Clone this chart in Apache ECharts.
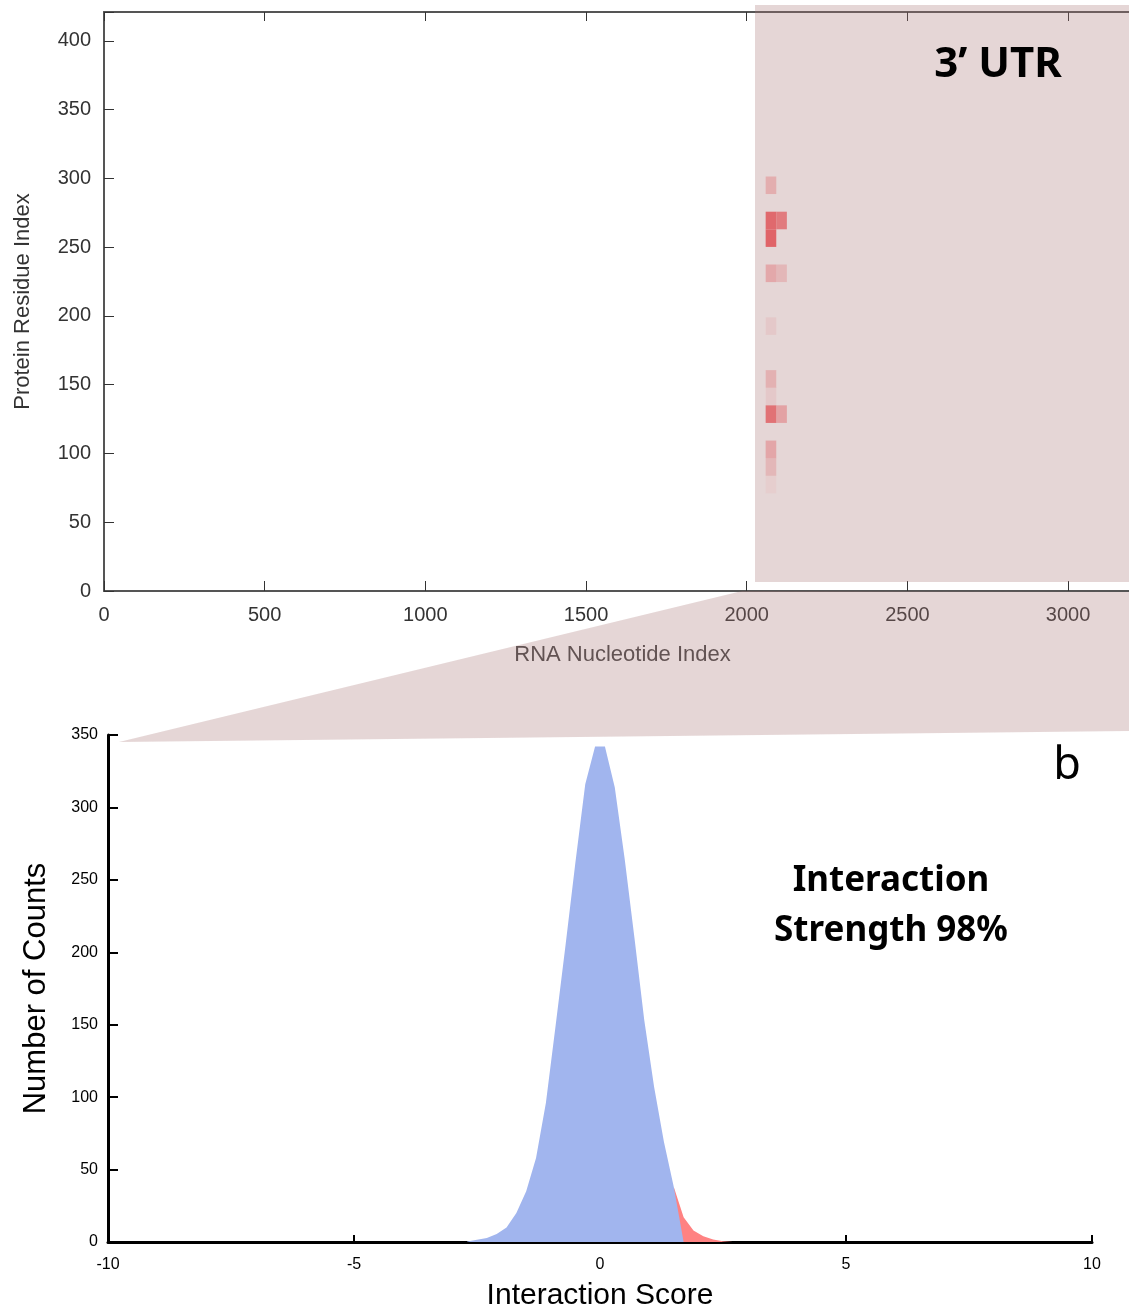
<!DOCTYPE html>
<html>
<head>
<meta charset="utf-8">
<title>RNA-protein interaction</title>
<script src="https://cdn.jsdelivr.net/npm/echarts@6/dist/echarts.min.js"></script>
<style>
  html, body { margin: 0; padding: 0; background: #fff; }
  #chart { width: 1129px; height: 1311px; }
</style>
</head>
<body>
<div id="chart"></div>
<script>
// top panel: interaction map, one cell per (RNA bin, protein bin)
const cellX = [2059, 2059, 2092, 2059, 2059, 2092, 2059, 2059, 2059, 2059, 2092, 2059, 2059, 2059]
const cellY = [288.6, 263, 263, 250.2, 224.6, 224.6, 186.2, 147.8, 135, 122.2, 122.2, 96.6, 83.8, 71]
const cellStrength = [0.35, 0.95, 0.8, 1, 0.4, 0.28, 0.12, 0.32, 0.12, 0.88, 0.45, 0.42, 0.28, 0.08]
const cellW = 33
const cellH = 12.8

// bottom panel: distribution of interaction scores
const scoreX = [-2.7, -2.5, -2.3, -2.1, -1.9, -1.7, -1.5, -1.3, -1.1, -0.9, -0.7, -0.5, -0.3, -0.1,
  0.1, 0.3, 0.5, 0.7, 0.9, 1.1, 1.3, 1.5, 1.7, 1.9, 2.1, 2.3, 2.5, 2.7]
const blueCounts = [0.3, 1.5, 2.8, 5.5, 10, 20, 35, 58, 96, 150, 205, 262, 316, 342,
  342, 314, 265, 210, 153, 107, 69, 38, 0, null, null, null, null, null]
const redCounts = [null, null, null, null, null, null, null, null, null, null, null, null, null, null,
  null, null, null, null, null, null, null, 38, 17, 8, 4, 1.8, 0.6, 0]

const pairs = (vals) => scoreX.map((x, i) => [x, vals[i]]).filter(p => p[1] !== null)

const chart = echarts.init(document.getElementById('chart'))

const overlay = 'rgba(168, 118, 118, 0.3)'
const topMax = 3227

const option = {
  animation: false,
  textStyle: { fontFamily: 'Liberation Sans, Arial, sans-serif' },
  grid: [
    { left: 104, top: 12, right: -12, bottom: 720, outerBoundsMode: 'none' },
    { left: 108, top: 735, right: 37, bottom: 69, outerBoundsMode: 'none' }
  ],
  xAxis: [
    {
      gridIndex: 0,
      type: 'value',
      min: 0,
      max: topMax,
      interval: 500,
      position: 'bottom',
      axisLine: { lineStyle: { color: '#555', width: 2 } },
      axisTick: { inside: true, length: 10, lineStyle: { color: '#333', width: 1 } },
      axisLabel: {
        fontSize: 20,
        color: '#333',
        margin: 14,
        formatter: (v) => (v % 500 === 0 ? v : '')
      },
      splitLine: { show: false },
      name: 'RNA Nucleotide Index',
      nameLocation: 'middle',
      nameGap: 53,
      nameTextStyle: { fontSize: 22, color: '#444' }
    },
    {
      gridIndex: 0,
      type: 'value',
      min: 0,
      max: topMax,
      interval: 500,
      position: 'top',
      axisLine: { lineStyle: { color: '#555', width: 2 } },
      axisTick: { inside: true, length: 9, lineStyle: { color: '#333', width: 1 } },
      axisLabel: { show: false },
      splitLine: { show: false }
    },
    {
      gridIndex: 1,
      type: 'value',
      min: -10,
      max: 10,
      interval: 5,
      axisLine: { lineStyle: { color: '#000', width: 3 } },
      axisTick: { inside: true, length: 7, lineStyle: { color: '#000', width: 2 } },
      axisLabel: { fontSize: 16, color: '#000', margin: 15 },
      splitLine: { show: false },
      name: 'Interaction Score',
      nameLocation: 'middle',
      nameGap: 39,
      nameTextStyle: { fontSize: 30, color: '#000' }
    }
  ],
  yAxis: [
    {
      gridIndex: 0,
      type: 'value',
      min: 0,
      max: 421,
      interval: 50,
      axisLine: { show: true, onZero: false, lineStyle: { color: '#555', width: 2 } },
      axisTick: { show: true, inside: true, length: 10, lineStyle: { color: '#333', width: 1 } },
      axisLabel: {
        fontSize: 20,
        color: '#333',
        margin: 13,
        formatter: (v) => (v % 50 === 0 ? v : '')
      },
      splitLine: { show: false },
      name: 'Protein Residue Index',
      nameLocation: 'middle',
      nameGap: 70,
      nameTextStyle: { fontSize: 22, color: '#333' }
    },
    {
      gridIndex: 1,
      type: 'value',
      min: 0,
      max: 350,
      interval: 50,
      axisLine: { show: true, onZero: false, lineStyle: { color: '#000', width: 3 } },
      axisTick: { show: true, inside: true, length: 10, lineStyle: { color: '#000', width: 2 } },
      axisLabel: { fontSize: 16, color: '#000', margin: 10 },
      splitLine: { show: false },
      name: 'Number of Counts',
      nameLocation: 'middle',
      nameGap: 56,
      nameTextStyle: { fontSize: 31, color: '#000' }
    }
  ],
  series: [
    {
      type: 'custom',
      xAxisIndex: 0,
      yAxisIndex: 0,
      z: 5,
      data: cellX.map((x, i) => [x, cellY[i], cellStrength[i]]),
      renderItem: (params, api) => {
        const p0 = api.coord([api.value(0), api.value(1) + cellH])
        const p1 = api.coord([api.value(0) + cellW, api.value(1)])
        return {
          type: 'rect',
          shape: { x: p0[0], y: p0[1], width: p1[0] - p0[0], height: p1[1] - p0[1] },
          style: { fill: '#e06468', opacity: api.value(2) }
        }
      }
    },
    {
      name: 'tail',
      type: 'line',
      xAxisIndex: 2,
      yAxisIndex: 1,
      z: 2,
      data: pairs(redCounts),
      showSymbol: false,
      lineStyle: { width: 0 },
      areaStyle: { color: '#ff8282', opacity: 1 }
    },
    {
      name: 'scores',
      type: 'line',
      xAxisIndex: 2,
      yAxisIndex: 1,
      z: 3,
      data: pairs(blueCounts),
      showSymbol: false,
      lineStyle: { width: 0 },
      areaStyle: { color: '#a1b5ee', opacity: 1 }
    }
  ],
  graphic: [
    {
      type: 'rect',
      z: 1,
      shape: { x: 755, y: 5, width: 380, height: 577 },
      style: { fill: overlay }
    },
    {
      type: 'polygon',
      z: 1,
      shape: { points: [[742, 591], [1131, 592], [1131, 731], [119, 742]] },
      style: { fill: overlay }
    },
    {
      type: 'text',
      z: 10,
      style: {
        text: '3’ UTR',
        x: 998,
        y: 65,
        textAlign: 'center',
        verticalAlign: 'middle',
        textVerticalAlign: 'middle',
        font: 'bold 42px "Noto Sans", sans-serif',
        fill: '#000'
      }
    },
    {
      type: 'text',
      z: 10,
      style: {
        text: 'b',
        x: 1067,
        y: 766,
        textAlign: 'center',
        verticalAlign: 'middle',
        textVerticalAlign: 'middle',
        font: '45px "Noto Sans", sans-serif',
        fill: '#000'
      }
    },
    {
      type: 'text',
      z: 10,
      style: {
        text: 'Interaction\nStrength 98%',
        x: 891,
        y: 906,
        textAlign: 'center',
        verticalAlign: 'middle',
        textVerticalAlign: 'middle',
        lineHeight: 50,
        font: 'bold 35px "Noto Sans", sans-serif',
        fill: '#000'
      }
    }
  ]
}

chart.setOption(option)
</script>
</body>
</html>
